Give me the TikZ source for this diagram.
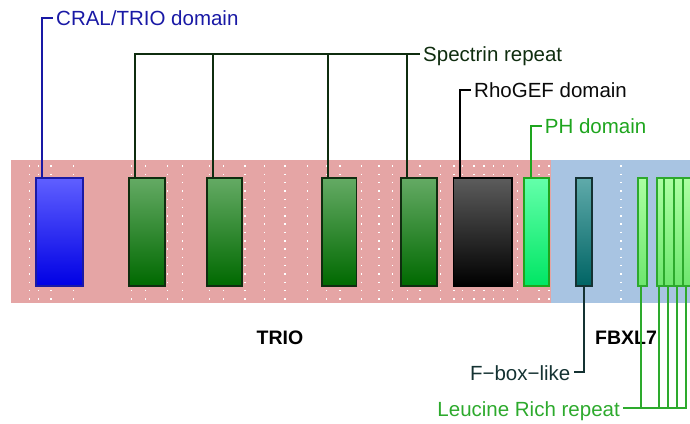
\documentclass[tikz,border=0pt]{standalone}
\usepackage{fontspec}
\setmainfont{Liberation Sans}
\usetikzlibrary{calc}
\definecolor{pinkbg}{RGB}{229,165,165}
\definecolor{bluebg}{RGB}{168,196,226}
\definecolor{cralc}{RGB}{25,25,165}
\definecolor{spc}{RGB}{15,45,15}
\definecolor{rhoc}{RGB}{10,10,10}
\definecolor{phc}{RGB}{30,165,30}
\definecolor{fbc}{RGB}{20,50,50}
\definecolor{lrrc}{RGB}{45,170,45}
\begin{document}
\begin{tikzpicture}[x=1pt,y=-1pt,
  dom/.style={draw, line width=1.8pt, inner sep=0pt, anchor=north west, minimum height=107.5pt},
  crald/.style={dom, draw=cralc, top color={rgb,255:red,95;green,95;blue,255}, bottom color={rgb,255:red,0;green,0;blue,228}},
  spd/.style={dom, draw=spc, top color={rgb,255:red,100;green,170;blue,100}, bottom color={rgb,255:red,0;green,105;blue,0}},
  rhod/.style={dom, draw=black, top color={rgb,255:red,92;green,92;blue,92}, bottom color=black},
  phd/.style={dom, draw=phc, top color={rgb,255:red,100;green,255;blue,170}, bottom color={rgb,255:red,0;green,230;blue,100}},
  fbd/.style={dom, draw=fbc, top color={rgb,255:red,95;green,170;blue,170}, bottom color={rgb,255:red,0;green,100;blue,100}},
  lrrd/.style={dom, draw=lrrc, top color={rgb,255:red,172;green,255;blue,162}, bottom color={rgb,255:red,110;green,230;blue,110}},
  lbl/.style={inner xsep=3pt, inner ysep=0pt, text height=16pt, text depth=0pt, font=\fontsize{20.5}{24}\selectfont},
  conn/.style={line width=2pt},
  dots/.style={white, line width=1.5pt, dash pattern=on 1.5pt off 6.8pt},
  big/.style={font=\fontsize{19.5}{23}\selectfont\bfseries, inner sep=0pt}
]
\path[use as bounding box] (0,0) rectangle (690,423);
\clip (0,0) rectangle (690,423);
% backgrounds
\fill[pinkbg] (11,160) rectangle (551,302.5);
\fill[bluebg] (551,160) rectangle (692,302.5);
% white dotted guide columns
\foreach \x in {29.7,38.3,51,73.3,131.7,145.7,167.7,182.7,209.3,223.3,245,264.3,285,307.3,326.7,340,361.7,379,392.3,407.3,420,440.7,454,462.7,474,484,493.3,503.3,517.3,539,549,621}
  \draw[dots] (\x,165.3) -- (\x,300);
% domain boxes
\node[crald, minimum width=46.7pt] (cral) at (35,177.3) {};
\node[spd, minimum width=36pt] (sp1) at (127.7,177.3) {};
\node[spd, minimum width=35pt] (sp2) at (205.7,177.3) {};
\node[spd, minimum width=34.5pt] (sp3) at (321,177.3) {};
\node[spd, minimum width=35.7pt] (sp4) at (400,177.3) {};
\node[rhod, minimum width=58.2pt] (rho) at (452.5,177.3) {};
\node[phd, minimum width=24.4pt] (ph) at (523.3,177.3) {};
\node[fbd, minimum width=16.3pt] (fb) at (574.7,177.3) {};
\node[lrrd, minimum width=9.3pt] (lr1) at (636.7,177.3) {};
\node[lrrd, minimum width=7.6pt] (lr2) at (655.7,177.3) {};
\node[lrrd, minimum width=9.4pt] (lr3) at (663.3,177.3) {};
\node[lrrd, minimum width=9pt] (lr4) at (672.7,177.3) {};
\node[lrrd, minimum width=11pt] (lr5) at (681.7,177.3) {};
% labels
\node[lbl, anchor=west, text=cralc] (lcral) at (53,17.5) {CRAL/TRIO domain};
\node[lbl, anchor=west, text=spc] (lsp) at (420,53.5) {Spectrin repeat};
\node[lbl, anchor=west, text=rhoc] (lrho) at (471,89.5) {RhoGEF domain};
\node[lbl, anchor=west, text=phc] (lph) at (541.7,125.5) {PH domain};
\node[lbl, anchor=east, text=fbc] (lfb) at (573.5,372) {F−box−like};
\node[lbl, anchor=east, text=lrrc] (llrr) at (623,408.3) {Leucine Rich repeat};
\node[big] (trio) at (280,338) {TRIO};
\node[big] (fbxl) at (626,338) {FBXL7};
% attachment points
\coordinate (pcral) at ($(cral.north west)+(7.3,0)$);
\coordinate (psp1) at ($(sp1.north west)+(7,0)$);
\coordinate (psp2) at ($(sp2.north west)+(7,0)$);
\coordinate (psp3) at ($(sp3.north west)+(7.3,0)$);
\coordinate (psp4) at ($(sp4.north west)+(6.7,0)$);
\coordinate (prho) at ($(rho.north west)+(7.5,0)$);
\coordinate (pph) at ($(ph.north west)+(7.4,0)$);
\coordinate (pfb) at ($(fb.south west)+(9,0)$);
\coordinate (plr1) at ($(lr1.south west)+(4.6,0)$);
\coordinate (plr2) at ($(lr2.south west)+(3.6,0)$);
\coordinate (plr3) at ($(lr3.south west)+(4.7,0)$);
\coordinate (plr4) at ($(lr4.south west)+(4.3,0)$);
\coordinate (plr5) at ($(lr5.south west)+(4.3,0)$);
% connectors
\draw[conn, cralc] (pcral) |- (lcral.west);
\draw[conn, spc] (psp1) |- (lsp.west);
\draw[conn, spc] (psp2) -- (psp2 |- lsp.west);
\draw[conn, spc] (psp3) -- (psp3 |- lsp.west);
\draw[conn, spc] (psp4) -- (psp4 |- lsp.west);
\draw[conn, black] (prho) |- (lrho.west);
\draw[conn, phc] (pph) |- (lph.west);
\draw[conn, fbc] (pfb) |- (lfb.east);
\draw[conn, lrrc] (plr5) |- (llrr.east);
\draw[conn, lrrc] (plr1) -- (plr1 |- llrr.east);
\draw[conn, lrrc] (plr2) -- (plr2 |- llrr.east);
\draw[conn, lrrc] (plr3) -- (plr3 |- llrr.east);
\draw[conn, lrrc] (plr4) -- (plr4 |- llrr.east);
\end{tikzpicture}
\end{document}
